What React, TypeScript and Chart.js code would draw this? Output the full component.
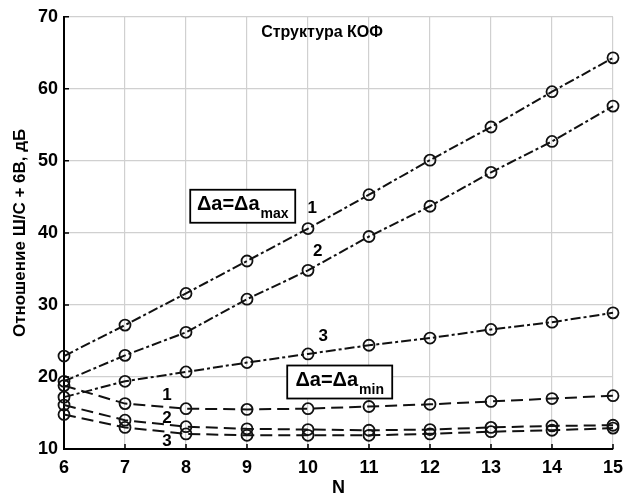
import React, { useEffect, useRef } from "react";
import { Chart, registerables } from "chart.js";

Chart.register(...registerables);

const nValues = [6, 7, 8, 9, 10, 11, 12, 13, 14, 15];
const max1 = [22.9, 27.2, 31.6, 36.1, 40.6, 45.3, 50.1, 54.7, 59.6, 64.3];
const max2 = [19.4, 23.0, 26.2, 30.8, 34.8, 39.5, 43.7, 48.4, 52.7, 57.6];
const max3 = [17.2, 19.4, 20.7, 22.0, 23.2, 24.4, 25.4, 26.6, 27.6, 28.9];
const min1 = [18.8, 16.3, 15.6, 15.5, 15.6, 15.9, 16.2, 16.6, 17.0, 17.4];
const min2 = [16.1, 14.0, 13.1, 12.8, 12.7, 12.6, 12.7, 13.0, 13.2, 13.3];
const min3 = [14.8, 13.0, 12.1, 11.9, 11.9, 11.9, 12.1, 12.4, 12.6, 12.9];

const yTicks = [10, 20, 30, 40, 50, 60, 70];

const titleText = "Структура КОФ";
const yAxisTitle = "Отношение Ш/С + 6В, дБ";
const xAxisTitle = "N";

// text annotations in data coordinates
const curveLabels = [
  { text: "1", x: 10.07, y: 43.4 },
  { text: "2", x: 10.16, y: 37.4 },
  { text: "3", x: 10.25, y: 25.6 },
  { text: "1", x: 7.69, y: 17.5 },
  { text: "2", x: 7.69, y: 14.3 },
  { text: "3", x: 7.69, y: 11.0 },
];
const boxLabels = [
  { main: "Δa=Δa", sub: "max", x: 8.93, y: 43.7 },
  { main: "Δa=Δa", sub: "min", x: 10.52, y: 19.3 },
];
const titlePos = { x: 10.23, y: 67.75 };

const FONT = "'Liberation Sans', Arial, sans-serif";

const annotationPlugin = {
  id: "annotations",
  afterDraw(chart: any) {
    const ctx = chart.ctx as CanvasRenderingContext2D;
    const xs = chart.scales.x;
    const ys = chart.scales.y;
    const area = chart.chartArea;
    ctx.save();
    // inside ticks
    ctx.strokeStyle = "#000";
    ctx.lineWidth = 1.5;
    ctx.beginPath();
    for (const v of nValues) {
      const px = xs.getPixelForValue(v);
      ctx.moveTo(px, area.bottom);
      ctx.lineTo(px, area.bottom - 5);
    }
    for (const v of yTicks) {
      const py = ys.getPixelForValue(v);
      ctx.moveTo(area.left, py);
      ctx.lineTo(area.left + 5, py);
    }
    ctx.stroke();

    ctx.fillStyle = "#000";
    ctx.textAlign = "center";
    ctx.textBaseline = "middle";
    // title
    ctx.font = `bold 16px ${FONT}`;
    ctx.fillText(titleText, xs.getPixelForValue(titlePos.x), ys.getPixelForValue(titlePos.y));
    // curve labels
    ctx.font = `bold 17px ${FONT}`;
    for (const l of curveLabels) {
      ctx.fillText(l.text, xs.getPixelForValue(l.x), ys.getPixelForValue(l.y));
    }
    // boxes
    for (const b of boxLabels) {
      const cx = xs.getPixelForValue(b.x);
      const cy = ys.getPixelForValue(b.y);
      ctx.font = `bold 20px ${FONT}`;
      const mw = ctx.measureText(b.main).width;
      ctx.font = `bold 14px ${FONT}`;
      const sw = ctx.measureText(b.sub).width;
      const tw = mw + sw + 1;
      const bw = 105;
      const bh = 33;
      ctx.fillStyle = "#fff";
      ctx.fillRect(cx - bw / 2, cy - bh / 2, bw, bh);
      ctx.strokeStyle = "#000";
      ctx.lineWidth = 1.8;
      ctx.strokeRect(cx - bw / 2, cy - bh / 2, bw, bh);
      ctx.fillStyle = "#000";
      ctx.textAlign = "left";
      const sx = cx - tw / 2;
      ctx.font = `bold 20px ${FONT}`;
      ctx.fillText(b.main, sx, cy - 2);
      ctx.font = `bold 14px ${FONT}`;
      ctx.fillText(b.sub, sx + mw + 1, cy + 8);
      ctx.textAlign = "center";
    }
    ctx.restore();
  },
};

export default function App() {
  const ref = useRef<HTMLCanvasElement | null>(null);
  useEffect(() => {
    if (!ref.current) return;
    const mk = (data: number[], dash: number[]) => ({
      data: nValues.map((x, i) => ({ x, y: data[i] })),
      borderColor: "#111",
      borderWidth: 2,
      borderDash: dash,
      backgroundColor: "rgba(0,0,0,0)",
      pointBackgroundColor: "rgba(0,0,0,0)",
      pointBorderColor: "#111",
      pointBorderWidth: 1.8,
      pointRadius: 5.5,
      pointStyle: "circle",
      fill: false,
      tension: 0,
      clip: false,
    });
    const dashDot = [10, 3, 3, 3];
    const dashed = [12, 6];
    const chart = new Chart(ref.current, {
      type: "line",
      data: {
        datasets: [
          mk(max1, dashDot),
          mk(max2, dashDot),
          mk(max3, dashDot),
          mk(min1, dashed),
          mk(min2, dashed),
          mk(min3, dashed),
        ] as any,
      },
      options: {
        animation: false,
        responsive: false,
        layout: { padding: { top: 16, right: 25, left: 0, bottom: 0 } },
        plugins: {
          legend: { display: false },
          tooltip: { enabled: false },
          title: { display: false },
        },
        scales: {
          x: {
            type: "linear",
            min: 6,
            max: 15,
            afterFit: (s: any) => {
              s.height = 55;
            },
            afterBuildTicks: (s: any) => {
              s.ticks = nValues.map((v) => ({ value: v }));
            },
            ticks: {
              color: "#000",
              font: { family: FONT, size: 18, weight: "bold" },
              padding: 8,
              maxRotation: 0,
            },
            grid: { color: "#d0d0d0", lineWidth: 1.2, drawTicks: false },
            border: { color: "#000", width: 2 },
            title: {
              display: true,
              text: xAxisTitle,
              color: "#000",
              font: { family: FONT, size: 18, weight: "bold" },
              padding: { top: 0, bottom: 5 },
            },
          },
          y: {
            type: "linear",
            min: 10,
            max: 70,
            afterFit: (s: any) => {
              s.width = 64;
            },
            afterBuildTicks: (s: any) => {
              s.ticks = yTicks.map((v) => ({ value: v }));
            },
            ticks: {
              color: "#000",
              font: { family: FONT, size: 18, weight: "bold" },
              padding: 6,
            },
            grid: { color: "#d0d0d0", lineWidth: 1.2, drawTicks: false },
            border: { color: "#000", width: 2 },
            title: {
              display: true,
              text: yAxisTitle,
              color: "#000",
              font: { family: FONT, size: 17, weight: "bold" },
              padding: { top: 10, bottom: 0 },
            },
          },
        },
      } as any,
      plugins: [annotationPlugin],
    });
    return () => chart.destroy();
  }, []);
  return (
    <div style={{ position: "absolute", left: 0, top: 0, width: 638, height: 504, background: "#fff" }}>
      <canvas ref={ref} width={638} height={504} style={{ display: "block", width: 638, height: 504 }} />
    </div>
  );
}
